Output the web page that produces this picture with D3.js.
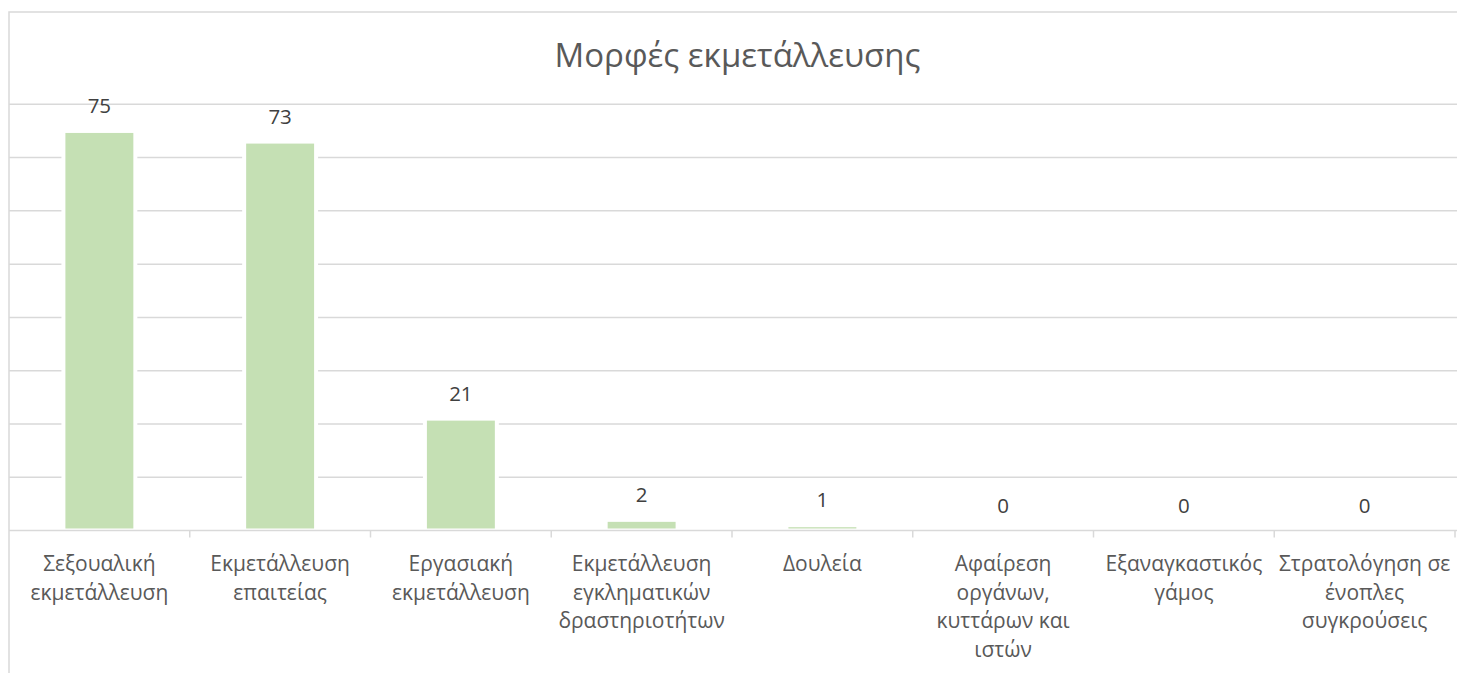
<!DOCTYPE html>
<html>
<head>
<meta charset="utf-8">
<script src="https://cdn.jsdelivr.net/npm/d3@7"></script>
<style>
  html, body { margin: 0; padding: 0; background: #fff; overflow: hidden; }
  svg { display: block; }
</style>
</head>
<body>
<svg id="chart" width="1457" height="673"></svg>
<script>
const title = "Μορφές εκμετάλλευσης";
const categories = [
  "Σεξουαλική\nεκμετάλλευση",
  "Εκμετάλλευση\nεπαιτείας",
  "Εργασιακή\nεκμετάλλευση",
  "Εκμετάλλευση\nεγκληματικών\nδραστηριοτήτων",
  "Δουλεία",
  "Αφαίρεση\nοργάνων,\nκυττάρων και\nιστών",
  "Εξαναγκαστικός\nγάμος",
  "Στρατολόγηση σε\nένοπλες\nσυγκρούσεις"
];
const values = [75, 73, 21, 2, 1, 0, 0, 0];
const yTicks = [0, 10, 20, 30, 40, 50, 60, 70, 80];

const FONT = "'Open Sans', 'Noto Sans', sans-serif";
const TXT = "#595959";
const GRID = "#d9d9d9";
const BAR = "#c5e0b4";

const svg = d3.select("#chart");
const W = 1457, H = 673;

// chart frame (extends beyond the visible area on right/bottom)
svg.append("rect")
  .attr("x", 9).attr("y", 12)
  .attr("width", 1500).attr("height", 720)
  .attr("fill", "#fff")
  .attr("stroke", GRID).attr("stroke-width", 1.5);

const plotL = 9, plotR = 9 + 180.75 * 8;
const x = d3.scaleBand().domain(d3.range(categories.length)).range([plotL, plotR]).padding(0);
const y = d3.scaleLinear().domain([0, 80]).range([530.5, 104.3]);

// gridlines
svg.append("g").selectAll("line").data(yTicks.filter(t => t > 0)).join("line")
  .attr("x1", plotL).attr("x2", W)
  .attr("y1", d => y(d)).attr("y2", d => y(d))
  .attr("stroke", GRID).attr("stroke-width", 1.5);

// bars with white outline
const bw = x.bandwidth() * 0.398;
svg.append("g").selectAll("rect").data(values).join("rect")
  .attr("x", (d, i) => x(i) + (x.bandwidth() - bw) / 2)
  .attr("y", d => y(d))
  .attr("width", bw)
  .attr("height", d => Math.max(0, y(0) - y(d)))
  .attr("fill", BAR)
  .attr("stroke", d => d > 0 ? "#fff" : "none")
  .attr("stroke-width", 4);

// x axis line + ticks
svg.append("g").attr("transform", `translate(0,${y(0)})`)
  .call(d3.axisBottom(x).tickSize(0).tickFormat(""))
  .call(g => g.select(".domain").remove());
svg.append("line")
  .attr("x1", plotL).attr("x2", W)
  .attr("y1", y(0)).attr("y2", y(0))
  .attr("stroke", GRID).attr("stroke-width", 1.5);
svg.append("g").selectAll("line").data(d3.range(1, categories.length + 1)).join("line")
  .attr("x1", d => plotL + d * x.step()).attr("x2", d => plotL + d * x.step())
  .attr("y1", y(0)).attr("y2", y(0) + 7)
  .attr("stroke", GRID).attr("stroke-width", 1.5);

// category labels
const lab = svg.append("g");
categories.forEach((c, i) => {
  const t = lab.append("text")
    .attr("x", x(i) + x.bandwidth() / 2)
    .attr("y", 571)
    .attr("text-anchor", "middle")
    .attr("font-family", FONT)
    .attr("font-size", 21)
    .attr("fill", TXT);
  c.split("\n").forEach((line, j) => {
    t.append("tspan")
      .attr("x", x(i) + x.bandwidth() / 2)
      .attr("dy", j === 0 ? 0 : 28.5)
      .text(line);
  });
});

// data labels
svg.append("g").selectAll("text").data(values).join("text")
  .attr("x", (d, i) => x(i) + x.bandwidth() / 2)
  .attr("y", d => y(d) - 18)
  .attr("text-anchor", "middle")
  .attr("font-family", FONT)
  .attr("font-size", 20.5)
  .attr("fill", "#404040")
  .text(d => d);

// title
svg.append("text")
  .attr("x", 737.5).attr("y", 66.5)
  .attr("text-anchor", "middle")
  .attr("font-family", FONT)
  .attr("font-size", 33)
  .attr("fill", TXT)
  .text(title);
</script>
</body>
</html>
